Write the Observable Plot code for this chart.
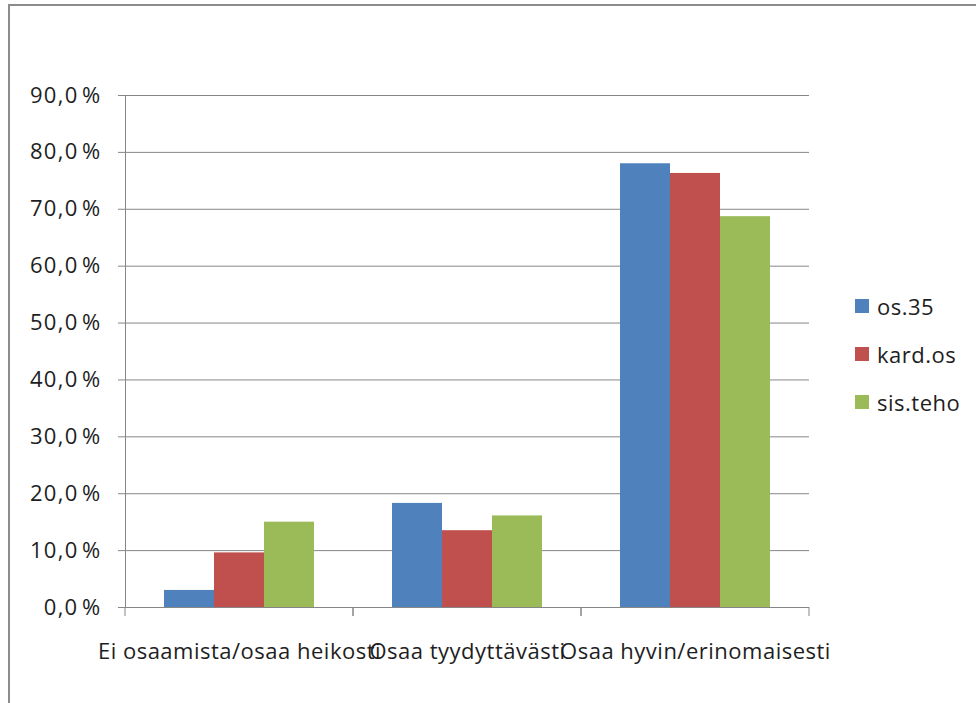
<!DOCTYPE html>
<html lang="fi">
<head>
<meta charset="utf-8">
<script src="https://cdn.jsdelivr.net/npm/d3@7"></script>
<script src="https://cdn.jsdelivr.net/npm/@observablehq/plot@0.6"></script>
<style>
  html, body { margin: 0; padding: 0; background: #fff; overflow: hidden; }
  #page { position: relative; width: 976px; height: 703px; overflow: hidden; font-family: "Open Sans", sans-serif; }
  #edge { position: absolute; left: 8px; top: 4px; width: 1200px; height: 1200px;
          border-top: 2px solid #8c8c8c; border-left: 2px solid #8c8c8c; }
  #chart { position: absolute; left: 0; top: 0; }
  #chart svg { font-size: 22px !important; }
  #chart svg text { fill: #1e1e1e; font-size: 22px; letter-spacing: 1.3px; }
  #chart svg g[aria-label^="fx-axis"] text { letter-spacing: 0.5px; }
  #legend { position: absolute; left: 855px; top: 282px; color: #1e1e1e; font-size: 22px; letter-spacing: 0.5px; }
  #legend .row { height: 48px; display: flex; align-items: center; }
  #legend .sw { width: 14px; height: 14px; margin-right: 8px; flex: none; }
</style>
</head>
<body>
<div id="page">
  <div id="edge"></div>
  <div id="chart"></div>
  <div id="legend"></div>
</div>
<script>
// Categories (skill level) and the three groups being compared
const categories = ["Ei osaamista/osaa heikosti", "Osaa tyydyttävästi", "Osaa hyvin/erinomaisesti"];
const seriesNames = ["os.35", "kard.os", "sis.teho"];
const seriesColors = ["#4f81bd", "#c0504d", "#9bbb59"];

// Share of respondents (%) in each category
const os35 = [3.0, 18.3, 78.0];
const kardOs = [9.6, 13.5, 76.3];
const sisTeho = [15.0, 16.1, 68.7];

// y-axis ticks (%)
const yTicks = [0, 10, 20, 30, 40, 50, 60, 70, 80, 90];

const seriesValues = [os35, kardOs, sisTeho];
const rows = categories.flatMap((category, i) =>
  seriesNames.map((series, j) => ({category, series, value: seriesValues[j][i]}))
);

const fmt = d => d.toFixed(1).replace(".", ",") + "\u200A%";

// Small ticks under the baseline at the edges of each category band
const bandEdgeTicks = (index, scales, values, dims) => {
  const g = d3.create("svg:g").attr("stroke", "#868686").attr("stroke-width", 1);
  const y0 = scales.y(0);
  const left = dims.marginLeft;
  const right = dims.width - dims.marginRight;
  for (const x of [left, right]) {
    g.append("line")
      .attr("x1", x).attr("x2", x)
      .attr("y1", y0).attr("y2", y0 + 9);
  }
  return g.node();
};

const chart = Plot.plot({
  width: 976,
  height: 703,
  marginLeft: 125,
  marginRight: 167,
  marginTop: 95,
  marginBottom: 96,
  style: {fontFamily: "Open Sans", fontSize: "22px", color: "#868686", background: "transparent"},
  facet: {data: rows, x: "category"},
  fx: {domain: categories, padding: 0, label: null, axis: "bottom", tickSize: 0, tickPadding: 36},
  x: {domain: seriesNames, paddingInner: 0, paddingOuter: 0.76, axis: null},
  y: {domain: [0, 90], ticks: yTicks, tickFormat: fmt, tickSize: 7, tickPadding: 17, line: true, label: null},
  color: {domain: seriesNames, range: seriesColors},
  marks: [
    Plot.ruleY(yTicks, {stroke: "#868686", strokeWidth: 1}),
    Plot.barY(rows, {x: "series", y: "value", fill: "series"}),
    bandEdgeTicks
  ]
});
document.getElementById("chart").appendChild(chart);

// Legend to the right of the plot
const legend = document.getElementById("legend");
seriesNames.forEach((name, i) => {
  const row = document.createElement("div");
  row.className = "row";
  const sw = document.createElement("span");
  sw.className = "sw";
  sw.style.background = seriesColors[i];
  const label = document.createElement("span");
  label.textContent = name;
  row.appendChild(sw);
  row.appendChild(label);
  legend.appendChild(row);
});
</script>
</body>
</html>
